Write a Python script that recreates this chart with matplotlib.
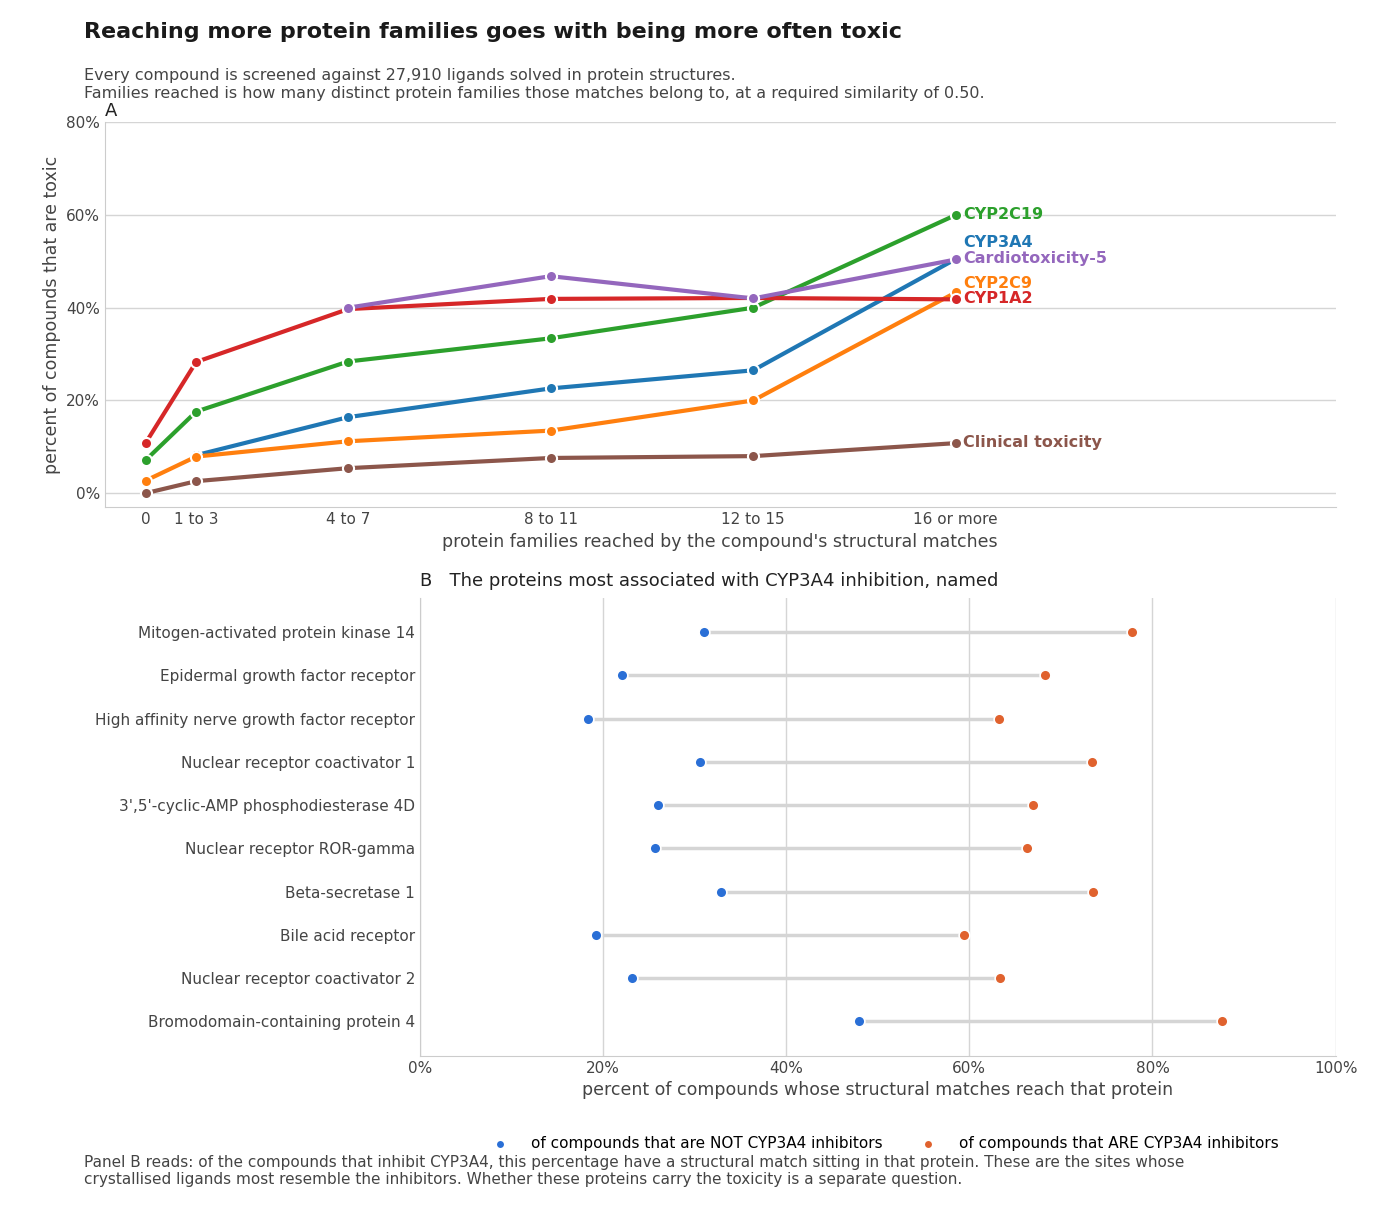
import numpy as np
import matplotlib.pyplot as plt

# Panel A data
bins = ['0', '1 to 3', '4 to 7', '8 to 11', '12 to 15', '16 or more']
bin_pos = [0, 1, 4, 8, 12, 16]
series = {
    'CYP2C19': [7.1, 17.6, 28.4, 33.4, 40.0, 60.0],
    'CYP3A4': [np.nan, 8.2, 16.4, 22.6, 26.5, 50.5],
    'Cardiotoxicity-5': [np.nan, np.nan, 40.0, 46.8, 42.0, 50.4],
    'CYP2C9': [2.7, 7.9, 11.2, 13.5, 20.0, 43.3],
    'CYP1A2': [10.8, 28.3, 39.7, 41.9, 42.1, 41.8],
    'Clinical toxicity': [0.0, 2.6, 5.4, 7.6, 8.0, 10.8],
}
colors = {
    'CYP2C19': '#2ca02c', 'CYP3A4': '#1f77b4', 'Cardiotoxicity-5': '#9467bd',
    'CYP2C9': '#ff7f0e', 'CYP1A2': '#d62728', 'Clinical toxicity': '#8c564b',
}
label_y = {'CYP2C19': 60.0, 'CYP3A4': 54.0, 'Cardiotoxicity-5': 50.6,
           'CYP2C9': 45.3, 'CYP1A2': 42.0, 'Clinical toxicity': 11.0}
draw_order = ['CYP3A4', 'CYP2C9', 'Clinical toxicity', 'CYP2C19', 'CYP1A2', 'Cardiotoxicity-5']

# Panel B data
proteins = ['Mitogen-activated protein kinase 14', 'Epidermal growth factor receptor',
            'High affinity nerve growth factor receptor', 'Nuclear receptor coactivator 1',
            "3',5'-cyclic-AMP phosphodiesterase 4D", 'Nuclear receptor ROR-gamma',
            'Beta-secretase 1', 'Bile acid receptor', 'Nuclear receptor coactivator 2',
            'Bromodomain-containing protein 4']
not_inhib = [31.0, 22.1, 18.3, 30.6, 26.0, 25.7, 32.9, 19.2, 23.1, 47.9]
inhib = [77.8, 68.3, 63.2, 73.4, 66.9, 66.3, 73.5, 59.4, 63.4, 87.6]

txt = '#444444'
plt.rcParams['font.family'] = 'DejaVu Sans'
fig = plt.figure(figsize=(14, 12.22), dpi=100)

fig.text(0.06, 0.982, 'Reaching more protein families goes with being more often toxic',
         fontsize=16, fontweight='bold', color='#1a1a1a', va='top')
fig.text(0.06, 0.944, 'Every compound is screened against 27,910 ligands solved in protein structures.\n'
         'Families reached is how many distinct protein families those matches belong to, at a required similarity of 0.50.',
         fontsize=11.5, color=txt, va='top', linespacing=1.2)

axA = fig.add_axes([0.075, 0.585, 0.879, 0.315])
for name in draw_order:
    axA.plot(bin_pos, series[name], color=colors[name], lw=3, marker='o', ms=8,
             mec='white', mew=1.5, zorder=3)
for name, yv in label_y.items():
    axA.text(16.15, yv, name, color=colors[name], fontsize=11.5, fontweight='bold', va='center')
axA.set_xlim(-0.8, 23.5)
axA.set_ylim(-3, 80)
axA.set_xticks(bin_pos)
axA.set_xticklabels(bins)
axA.set_yticks([0, 20, 40, 60, 80])
axA.set_yticklabels(['0%', '20%', '40%', '60%', '80%'])
axA.grid(axis='y', color='#d5d5d5', lw=1)
axA.set_axisbelow(True)
axA.tick_params(colors=txt, labelsize=11, length=0)
for s in ['top', 'right']:
    axA.spines[s].set_visible(False)
for s in ['left', 'bottom']:
    axA.spines[s].set_color('#cccccc')
axA.set_ylabel('percent of compounds that are toxic', fontsize=12.5, color=txt)
axA.set_xlabel("protein families reached by the compound's structural matches", fontsize=12.5, color=txt)
axA.text(0.0, 1.005, 'A', transform=axA.transAxes, fontsize=13, color='#222222', va='bottom')

axB = fig.add_axes([0.3, 0.136, 0.654, 0.375])
y = np.arange(len(proteins))
axB.hlines(y, not_inhib, inhib, color='#d5d5d5', lw=2.5, zorder=2)
axB.scatter(not_inhib, y, color='#2a6fd6', s=60, ec='white', lw=1.2, zorder=3,
            label='of compounds that are NOT CYP3A4 inhibitors')
axB.scatter(inhib, y, color='#e0622e', s=60, ec='white', lw=1.2, zorder=3,
            label='of compounds that ARE CYP3A4 inhibitors')
axB.set_yticks(y)
axB.set_yticklabels(proteins)
axB.set_ylim(len(proteins) - 0.2, -0.8)
axB.set_xlim(0, 100)
axB.set_xticks([0, 20, 40, 60, 80, 100])
axB.set_xticklabels(['0%', '20%', '40%', '60%', '80%', '100%'])
axB.grid(axis='x', color='#d5d5d5', lw=1)
axB.set_axisbelow(True)
axB.tick_params(colors=txt, labelsize=11, length=0)
for s in ['top', 'right']:
    axB.spines[s].set_visible(False)
for s in ['left', 'bottom']:
    axB.spines[s].set_color('#cccccc')
axB.set_xlabel('percent of compounds whose structural matches reach that protein', fontsize=12.5, color=txt)
axB.set_title('B   The proteins most associated with CYP3A4 inhibition, named', loc='left',
              fontsize=13, color='#222222', x=0.0, pad=8)
fig.legend(loc='center', bbox_to_anchor=(0.63, 0.064), ncol=2, frameon=False, fontsize=11,
           handletextpad=1.0, columnspacing=2.0, markerscale=0.8)

fig.text(0.06, 0.055, 'Panel B reads: of the compounds that inhibit CYP3A4, this percentage have a structural match sitting in that protein. '
         'These are the sites whose\ncrystallised ligands most resemble the inhibitors. Whether these proteins carry the toxicity is a separate question.',
         fontsize=11, color=txt, va='top', linespacing=1.2)

fig.savefig('out.png', dpi=100, facecolor='white')
